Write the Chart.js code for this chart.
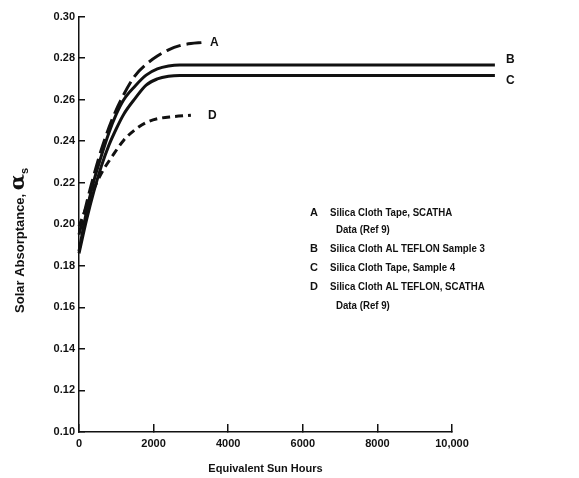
<!DOCTYPE html>
<html>
<head>
<meta charset="utf-8">
<script src="https://cdn.jsdelivr.net/npm/chart.js@4/dist/chart.umd.min.js"></script>
<style>
  html, body { margin: 0; padding: 0; background: #fff; }
</style>
</head>
<body>
<canvas id="chart" width="579" height="478"></canvas>
<script>
// curve data (hours, solar absorptance)
const hoursA = [0, 300, 600, 900, 1200, 1500, 1800, 2100, 2400, 2700, 3000, 3300];
const alphaA = [0.195, 0.217, 0.236, 0.251, 0.2625, 0.2715, 0.277, 0.281, 0.284, 0.286, 0.287, 0.2875];

const hoursB = [0, 200, 400, 600, 800, 1000, 1200, 1500, 1800, 2100, 2400, 2700, 11150];
const alphaB = [0.187, 0.206, 0.221, 0.233, 0.244, 0.253, 0.2600, 0.2665, 0.2718, 0.2748, 0.2762, 0.2767, 0.2767];

const hoursC = [0, 200, 400, 600, 800, 1000, 1200, 1500, 1800, 2100, 2400, 2700, 11150];
const alphaC = [0.186, 0.202, 0.216, 0.228, 0.238, 0.246, 0.253, 0.2605, 0.267, 0.27, 0.2713, 0.2717, 0.2717];

const hoursD = [0, 300, 600, 900, 1200, 1500, 1800, 2100, 2500, 3000];
const alphaD = [0.199, 0.213, 0.2245, 0.233, 0.2405, 0.2455, 0.249, 0.2508, 0.2518, 0.2525];

const curveNames = ['A', 'B', 'C', 'D'];
const legendLines = [
  ['A', 'Silica Cloth Tape, SCATHA'],
  ['', 'Data (Ref 9)'],
  ['B', 'Silica Cloth AL TEFLON Sample 3'],
  ['C', 'Silica Cloth Tape, Sample 4'],
  ['D', 'Silica Cloth AL TEFLON, SCATHA'],
  ['', 'Data (Ref 9)']
];

const toPoints = (xs, ys) => xs.map((x, i) => ({ x: x, y: ys[i] }));
const ink = '#111';
const fam = '"Liberation Sans", Arial, sans-serif';

const lineStyle = {
  borderColor: ink,
  borderWidth: 3,
  pointRadius: 0,
  fill: false,
  cubicInterpolationMode: 'monotone',
  clip: false
};

// letters at the ends of the curves + the text key
const annotations = {
  id: 'annotations',
  afterDatasetsDraw(chart) {
    const ctx = chart.ctx;
    const dx = [8, 11, 11, 17];
    const dy = [0, -5, 5, 0];
    ctx.save();
    ctx.fillStyle = ink;
    ctx.font = 'bold 12px ' + fam;
    ctx.textBaseline = 'middle';
    chart.data.datasets.forEach((ds, i) => {
      const pts = chart.getDatasetMeta(i).data;
      const last = pts[pts.length - 1];
      ctx.fillText(curveNames[i], last.x + dx[i], last.y + dy[i]);
    });

    // the key is set a touch narrower than the axis labels
    ctx.font = 'bold 11px ' + fam;
    const rowY = [213, 230, 249, 268, 287, 306];
    legendLines.forEach((row, i) => {
      if (row[0]) ctx.fillText(row[0], 310, rowY[i]);
      const w = ctx.measureText(row[1]).width * 0.88;
      ctx.fillText(row[1], row[0] ? 330 : 336, rowY[i], w);
    });

    // y axis title with large alpha and subscript s
    ctx.translate(20, 240);
    ctx.rotate(-Math.PI / 2);
    ctx.textAlign = 'left';
    const mainFont = 'bold 13px ' + fam;
    const alphaFont = 'bold 21px "DejaVu Serif", serif';
    ctx.font = mainFont;
    const t = 'Solar Absorptance, ';
    const w = ctx.measureText(t).width;
    ctx.font = alphaFont;
    const wa = ctx.measureText('\u03b1').width;
    const x0 = -(w + wa + 7) / 2;
    ctx.font = mainFont;
    ctx.fillText(t, x0, 0);
    ctx.font = alphaFont;
    ctx.fillText('\u03b1', x0 + w, -1);
    ctx.font = 'bold 11px ' + fam;
    ctx.fillText('s', x0 + w + wa, 5);
    ctx.restore();
  }
};

new Chart(document.getElementById('chart'), {
  type: 'line',
  data: {
    datasets: [
      Object.assign({ label: 'A', data: toPoints(hoursA, alphaA), borderDash: [15, 6] }, lineStyle),
      Object.assign({ label: 'B', data: toPoints(hoursB, alphaB) }, lineStyle),
      Object.assign({ label: 'C', data: toPoints(hoursC, alphaC) }, lineStyle),
      Object.assign({ label: 'D', data: toPoints(hoursD, alphaD), borderDash: [8, 5] }, lineStyle)
    ]
  },
  options: {
    responsive: false,
    animation: false,
    layout: { padding: { top: 12, right: 127, left: 0, bottom: 0 } },
    plugins: { legend: { display: false }, tooltip: { enabled: false } },
    scales: {
      x: {
        type: 'linear',
        min: 0,
        max: 10000,
        afterFit(scale) { scale.height = 46; },
        border: { color: ink, width: 1.5 },
        grid: { drawOnChartArea: false, tickLength: -8, color: ink, lineWidth: 1.5 },
        ticks: {
          stepSize: 2000,
          padding: 13,
          color: ink,
          font: { family: fam, size: 11, weight: 'bold' },
          maxRotation: 0,
          callback: v => (v === 10000 ? '10,000' : String(v))
        },
        title: {
          display: true,
          text: 'Equivalent Sun Hours',
          color: ink,
          padding: { top: 4, bottom: 2 },
          font: { family: fam, size: 11, weight: 'bold' }
        }
      },
      y: {
        min: 0.10,
        max: 0.30,
        afterFit(scale) { scale.width = 79; },
        border: { color: ink, width: 1.5 },
        grid: { drawOnChartArea: false, tickLength: -6, color: ink, lineWidth: 1.5 },
        ticks: {
          stepSize: 0.02,
          padding: 10,
          color: ink,
          font: { family: fam, size: 11, weight: 'bold' },
          callback: v => v.toFixed(2)
        }
      }
    }
  },
  plugins: [annotations]
});
</script>
</body>
</html>
